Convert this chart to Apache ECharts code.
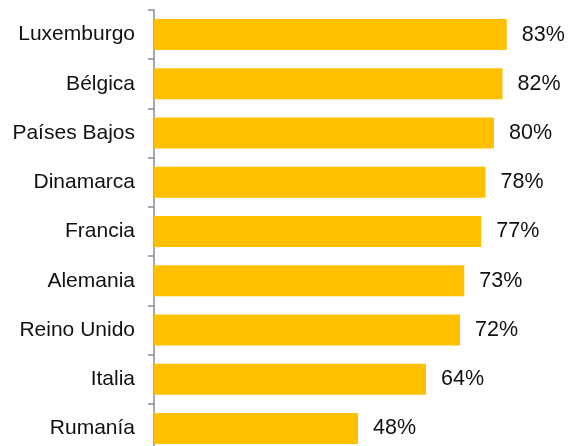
<!DOCTYPE html>
<html>
<head>
<meta charset="utf-8">
<script src="https://cdn.jsdelivr.net/npm/echarts@6/dist/echarts.min.js"></script>
<style>
  html, body { margin: 0; padding: 0; background: #fff; }
  #chartDiv { width: 571px; height: 446px; }
</style>
</head>
<body>
<div id="chartDiv"></div>
<script>
// Data (top to bottom as shown)
const countries = ['Luxemburgo', 'Bélgica', 'Países Bajos', 'Dinamarca', 'Francia', 'Alemania', 'Reino Unido', 'Italia', 'Rumanía'];
const shares = [83, 82, 80, 78, 77, 73, 72, 64, 48];

function renderChart() {
    const chartDom = document.getElementById('chartDiv');
    const myChart = echarts.init(chartDom, null, { renderer: 'canvas' });

    const option = {
        backgroundColor: '#fff',
        animation: false,
        grid: { left: 154, top: 10, width: 425, height: 443, outerBoundsMode: 'none' },
        xAxis: {
            type: 'value',
            min: 0,
            max: 100,
            show: false
        },
        yAxis: {
            type: 'category',
            data: countries,
            inverse: true,
            axisLine: { show: true, lineStyle: { color: '#8a8a9e', width: 1.5 } },
            axisTick: { show: true, length: 6, lineStyle: { color: '#8a8a9e', width: 1.5 } },
            axisLabel: {
                margin: 19,
                color: '#111',
                fontFamily: 'Liberation Sans, Arial, sans-serif',
                fontSize: 21
            }
        },
        series: [
            {
                type: 'bar',
                data: shares,
                barCategoryGap: '37%',
                itemStyle: { color: '#FFC000' },
                label: {
                    show: true,
                    position: 'right',
                    distance: 15,
                    formatter: '{c}%',
                    color: '#111',
                    fontFamily: 'Liberation Sans, Arial, sans-serif',
                    fontSize: 21.5
                }
            }
        ]
    };

    myChart.setOption(option);
}

renderChart();
</script>
</body>
</html>
